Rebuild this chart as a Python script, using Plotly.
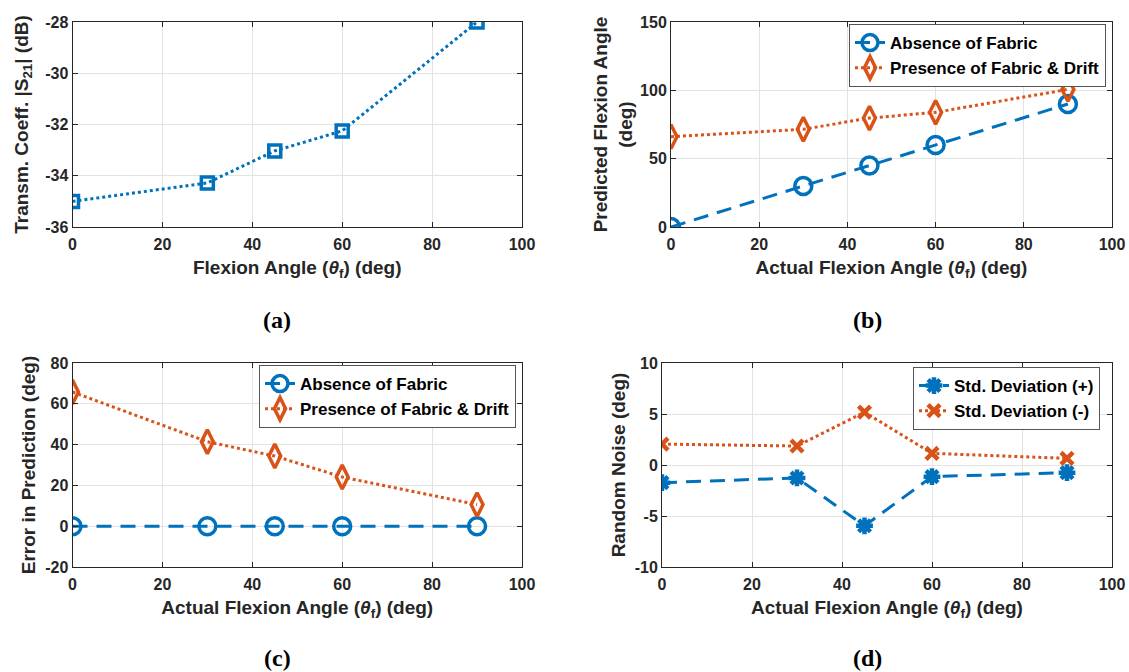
import plotly.graph_objects as go

# ---------------- data ----------------
angles = [0, 30, 45, 60, 90]
s21_db = [-35.0, -34.28, -33.03, -32.25, -28.0]
pred_absence = [0, 30, 45, 60, 90]
pred_presence = [66.1, 71.5, 79.7, 83.9, 100.7]
err_absence = [0, 0, 0, 0, 0]
err_presence = [65.8, 41.4, 34.4, 24.1, 10.6]
std_plus = [-1.73, -1.27, -5.96, -1.14, -0.75]
std_minus = [2.05, 1.86, 5.18, 1.14, 0.65]

# tick labels (MATLAB style hyphen minus)
x_ticks = [0, 20, 40, 60, 80, 100]
ya_ticks = [-36, -34, -32, -30, -28]
ya_labels = ["-36", "-34", "-32", "-30", "-28"]
yb_ticks = [0, 50, 100, 150]
yb_labels = ["0", "50", "100", "150"]
yc_ticks = [-20, 0, 20, 40, 60, 80]
yc_labels = ["-20", "0", "20", "40", "60", "80"]
yd_ticks = [-10, -5, 0, 5, 10]
yd_labels = ["-10", "-5", "0", "5", "10"]

BLUE = "#0072BD"
ORANGE = "#D95319"
TXT = "#262626"
W, H = 1129, 672

fig = go.Figure()

DASH = "15px,9px"
# (a)
fig.add_trace(go.Scatter(x=angles, y=s21_db, mode="lines+markers", showlegend=False,
                         line=dict(color=BLUE, width=3, dash="dot"),
                         marker=dict(symbol="square-open", size=12, color=BLUE, line=dict(width=3.5)),
                         xaxis="x", yaxis="y"))
# (b)
fig.add_trace(go.Scatter(x=angles, y=pred_absence, mode="lines+markers", name="Absence of Fabric",
                         line=dict(color=BLUE, width=3, dash=DASH),
                         marker=dict(symbol="circle-open", size=17, color=BLUE, line=dict(width=3.5)),
                         xaxis="x2", yaxis="y2", legend="legend"))
fig.add_trace(go.Scatter(x=angles, y=pred_presence, mode="lines+markers", name="Presence of Fabric & Drift",
                         line=dict(color=ORANGE, width=3, dash="dot"),
                         marker=dict(symbol="diamond-tall-open", size=17, color=ORANGE, line=dict(width=3.5)),
                         xaxis="x2", yaxis="y2", legend="legend"))
# (c)
fig.add_trace(go.Scatter(x=angles, y=err_absence, mode="lines+markers", name="Absence of Fabric",
                         line=dict(color=BLUE, width=3, dash=DASH),
                         marker=dict(symbol="circle-open", size=17, color=BLUE, line=dict(width=3.5)),
                         xaxis="x3", yaxis="y3", legend="legend2"))
fig.add_trace(go.Scatter(x=angles, y=err_presence, mode="lines+markers", name="Presence of Fabric & Drift",
                         line=dict(color=ORANGE, width=3, dash="dot"),
                         marker=dict(symbol="diamond-tall-open", size=17, color=ORANGE, line=dict(width=3.5)),
                         xaxis="x3", yaxis="y3", legend="legend2"))
# (d)
fig.add_trace(go.Scatter(x=angles, y=std_plus, mode="lines+markers", name="Std. Deviation (+)",
                         line=dict(color=BLUE, width=3, dash=DASH),
                         marker=dict(symbol="asterisk-open", size=14, color=BLUE, line=dict(width=4.5, color=BLUE)),
                         xaxis="x4", yaxis="y4", legend="legend3"))
fig.add_trace(go.Scatter(x=angles, y=std_minus, mode="lines+markers", name="Std. Deviation (-)",
                         line=dict(color=ORANGE, width=3, dash="dot"),
                         marker=dict(symbol="x-thin-open", size=12, color=ORANGE, line=dict(width=4.5, color=ORANGE)),
                         xaxis="x4", yaxis="y4", legend="legend3"))

tickfont = dict(family="Liberation Sans", size=16, color=TXT, weight="bold")
titlefont = dict(family="Liberation Sans", size=19, color=TXT, weight="bold")


def xax(domain, anchor, title):
    return dict(domain=domain, anchor=anchor, range=[0, 100], tickvals=x_ticks, automargin=False,
                showline=True, mirror="ticks", linecolor=TXT, linewidth=1,
                ticks="inside", ticklen=5, tickcolor=TXT, ticklabelstandoff=3,
                showgrid=True, gridcolor="#e3e3e3", gridwidth=1, zeroline=False,
                tickfont=tickfont, title=dict(text=title, font=titlefont, standoff=8))


def yax(domain, anchor, rng, tv, tt, title, standoff):
    return dict(domain=domain, anchor=anchor, range=rng, tickvals=tv, ticktext=tt, automargin=False,
                showline=True, mirror="ticks", linecolor=TXT, linewidth=1,
                ticks="inside", ticklen=5, tickcolor=TXT,
                showgrid=True, gridcolor="#e3e3e3", gridwidth=1, zeroline=False,
                tickfont=tickfont, title=dict(text=title, font=titlefont, standoff=standoff))


xl = [72.5 / W, 522 / W]
xr_b = [671 / W, 1112 / W]
xr_d = [662 / W, 1112 / W]
yt = [1 - 227 / H, 1 - 22 / H]
yb = [1 - 567 / H, 1 - 363 / H]

theta = "Flexion Angle (<i>θ</i><sub>f</sub>) (deg)"

legfont = dict(family="Liberation Sans", size=17, color="black", weight="bold")
legstyle = dict(bgcolor="white", bordercolor="#555555", borderwidth=1, font=legfont,
                xanchor="right", yanchor="top", itemwidth=30, tracegroupgap=0)

fig.update_layout(
    width=W, height=H, margin=dict(l=0, r=0, t=0, b=0, autoexpand=False),
    paper_bgcolor="white", plot_bgcolor="white", hovermode=False,
    xaxis=xax(xl, "y", theta),
    yaxis=yax(yt, "x", [-36, -28], ya_ticks, ya_labels, "Transm. Coeff. |S<sub>21</sub>| (dB)", 11),
    xaxis2=xax(xr_b, "y2", "Actual " + theta),
    yaxis2=yax(yt, "x2", [0, 150], yb_ticks, yb_labels, "Predicted Flexion Angle<br>(deg)", 2),
    xaxis3=xax(xl, "y3", "Actual " + theta),
    yaxis3=yax(yb, "x3", [-20, 80], yc_ticks, yc_labels, "Error in Prediction (deg)", 4),
    xaxis4=xax(xr_d, "y4", "Actual " + theta),
    yaxis4=yax(yb, "x4", [-10, 10], yd_ticks, yd_labels, "Random Noise (deg)", 4),
    legend=dict(x=1106 / W, y=1 - 24 / H, **legstyle),
    legend2=dict(x=516 / W, y=1 - 365 / H, **legstyle),
    legend3=dict(x=1100 / W, y=1 - 367 / H, **legstyle),
)

labfont = dict(family="Liberation Serif", size=24, color="black", weight="bold")
for txt, x, y in [("(a)", 277, 320), ("(b)", 867, 320), ("(c)", 277, 658), ("(d)", 867, 658)]:
    fig.add_annotation(text=txt, x=x / W, y=1 - y / H, xref="paper", yref="paper",
                       showarrow=False, font=labfont, xanchor="center", yanchor="middle")

fig.write_html("out.html", config={"displayModeBar": False},
               post_script="document.body.style.margin='0';document.body.style.overflow='hidden';")
